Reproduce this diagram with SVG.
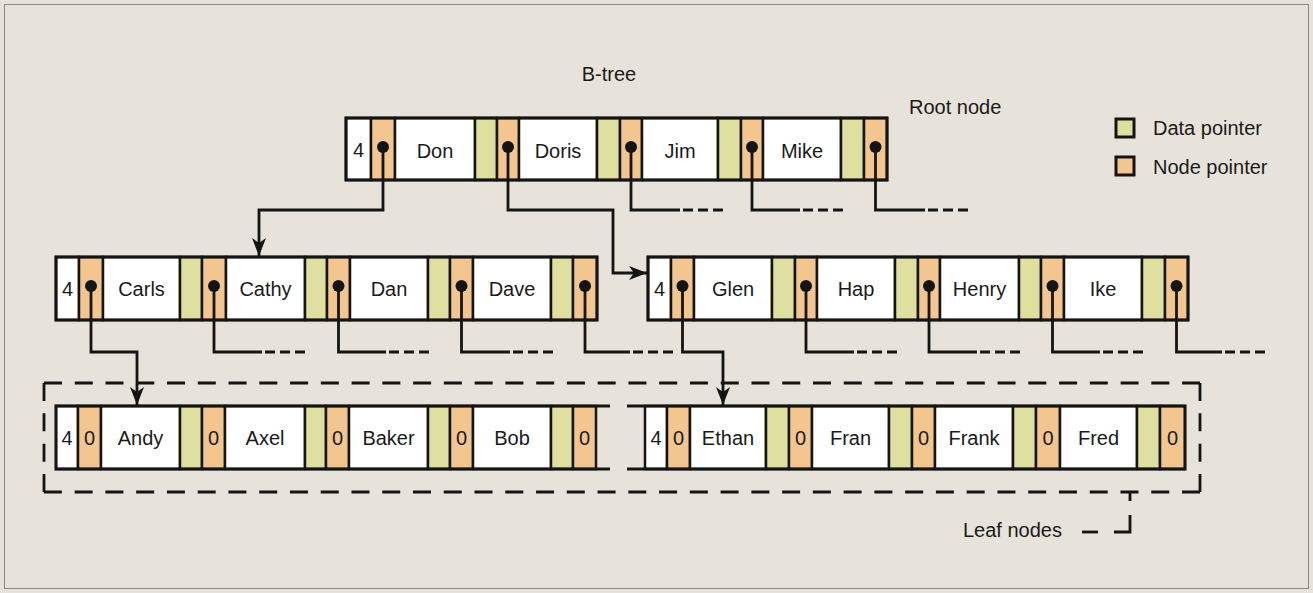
<svg xmlns="http://www.w3.org/2000/svg" width="1313" height="593" viewBox="0 0 1313 593">
<defs>
<style>
.bg{fill:#e7e3db}
.c{stroke:#141414;stroke-width:2.5}
.w{fill:#ffffff}
.np{fill:#f3c690}
.dp{fill:#dfdfa0}
.out{fill:none;stroke:#141414;stroke-width:3}
.t{font-family:"Liberation Sans",Arial,sans-serif;font-size:20px;fill:#1a1a1a}
.tc{font-family:"Liberation Sans",Arial,sans-serif;font-size:20px;fill:#1a1a1a;text-anchor:middle}
.ln{fill:none;stroke:#141414;stroke-width:2.8}
.dl{fill:none;stroke:#141414;stroke-width:2.8;stroke-dasharray:10 5}
.dot{fill:#141414}
</style>
<marker id="arr" markerUnits="userSpaceOnUse" markerWidth="20" markerHeight="16" refX="18" refY="7" orient="auto">
<path d="M0,0 L18,7 L0,14 L5,7 z" fill="#141414"/>
</marker>
</defs>
<rect class="bg" x="0" y="0" width="1313" height="593"/>
<rect x="4.5" y="4.5" width="1304" height="584" fill="none" stroke="#8a8680" stroke-width="1"/>

<text class="tc" x="609" y="81">B-tree</text>
<text class="t" x="909" y="114">Root node</text>

<g id="legend">
<rect class="dp" x="1116" y="119" width="18" height="18" stroke="#141414" stroke-width="3"/>
<text class="t" x="1153" y="135">Data pointer</text>
<rect class="np" x="1116" y="157" width="18" height="18" stroke="#141414" stroke-width="3"/>
<text class="t" x="1153" y="174">Node pointer</text>
</g>

<g id="root-node">
<rect class="c w" x="346" y="118" width="25" height="62"/>
<rect class="c np" x="371" y="118" width="24" height="62"/>
<rect class="c w" x="395" y="118" width="80" height="62"/>
<rect class="c dp" x="475" y="118" width="22" height="62"/>
<rect class="c np" x="497" y="118" width="22" height="62"/>
<rect class="c w" x="519" y="118" width="78" height="62"/>
<rect class="c dp" x="597" y="118" width="23" height="62"/>
<rect class="c np" x="620" y="118" width="22" height="62"/>
<rect class="c w" x="642" y="118" width="76" height="62"/>
<rect class="c dp" x="718" y="118" width="23" height="62"/>
<rect class="c np" x="741" y="118" width="22" height="62"/>
<rect class="c w" x="763" y="118" width="78" height="62"/>
<rect class="c dp" x="841" y="118" width="23" height="62"/>
<rect class="c np" x="864" y="118" width="23" height="62"/>
<rect class="out" x="346" y="118" width="541" height="62"/>
<text class="tc" x="358.5" y="157">4</text>
<text class="tc" x="435" y="158">Don</text>
<text class="tc" x="558" y="158">Doris</text>
<text class="tc" x="680" y="158">Jim</text>
<text class="tc" x="802" y="158">Mike</text>
</g>

<g id="mid-left">
<rect class="c w" x="56" y="257" width="23" height="63"/>
<rect class="c np" x="79" y="257" width="24" height="63"/>
<rect class="c w" x="103" y="257" width="77" height="63"/>
<rect class="c dp" x="180" y="257" width="22" height="63"/>
<rect class="c np" x="202" y="257" width="24" height="63"/>
<rect class="c w" x="226" y="257" width="79" height="63"/>
<rect class="c dp" x="305" y="257" width="22" height="63"/>
<rect class="c np" x="327" y="257" width="23" height="63"/>
<rect class="c w" x="350" y="257" width="78" height="63"/>
<rect class="c dp" x="428" y="257" width="22" height="63"/>
<rect class="c np" x="450" y="257" width="23" height="63"/>
<rect class="c w" x="473" y="257" width="78" height="63"/>
<rect class="c dp" x="551" y="257" width="22" height="63"/>
<rect class="c np" x="573" y="257" width="24" height="63"/>
<rect class="out" x="56" y="257" width="541" height="63"/>
<text class="tc" x="67.5" y="296">4</text>
<text class="tc" x="141.5" y="296">Carls</text>
<text class="tc" x="265.5" y="296">Cathy</text>
<text class="tc" x="389" y="296">Dan</text>
<text class="tc" x="512" y="296">Dave</text>
</g>

<g id="mid-right">
<rect class="c w" x="648" y="257" width="23" height="63"/>
<rect class="c np" x="671" y="257" width="23" height="63"/>
<rect class="c w" x="694" y="257" width="78" height="63"/>
<rect class="c dp" x="772" y="257" width="23" height="63"/>
<rect class="c np" x="795" y="257" width="22" height="63"/>
<rect class="c w" x="817" y="257" width="78" height="63"/>
<rect class="c dp" x="895" y="257" width="23" height="63"/>
<rect class="c np" x="918" y="257" width="22" height="63"/>
<rect class="c w" x="940" y="257" width="79" height="63"/>
<rect class="c dp" x="1019" y="257" width="22" height="63"/>
<rect class="c np" x="1041" y="257" width="23" height="63"/>
<rect class="c w" x="1064" y="257" width="78" height="63"/>
<rect class="c dp" x="1142" y="257" width="23" height="63"/>
<rect class="c np" x="1165" y="257" width="23" height="63"/>
<rect class="out" x="648" y="257" width="540" height="63"/>
<text class="tc" x="659.5" y="296">4</text>
<text class="tc" x="733" y="296">Glen</text>
<text class="tc" x="856" y="296">Hap</text>
<text class="tc" x="979.5" y="296">Henry</text>
<text class="tc" x="1103" y="296">Ike</text>
</g>

<g id="leaf-left">
<rect class="c w" x="56" y="406" width="22" height="63"/>
<rect class="c np" x="78" y="406" width="23" height="63"/>
<rect class="c w" x="101" y="406" width="79" height="63"/>
<rect class="c dp" x="180" y="406" width="22" height="63"/>
<rect class="c np" x="202" y="406" width="23" height="63"/>
<rect class="c w" x="225" y="406" width="80" height="63"/>
<rect class="c dp" x="305" y="406" width="21" height="63"/>
<rect class="c np" x="326" y="406" width="23" height="63"/>
<rect class="c w" x="349" y="406" width="79" height="63"/>
<rect class="c dp" x="428" y="406" width="22" height="63"/>
<rect class="c np" x="450" y="406" width="23" height="63"/>
<rect class="c w" x="473" y="406" width="78" height="63"/>
<rect class="c dp" x="551" y="406" width="22" height="63"/>
<rect class="c np" x="573" y="406" width="23" height="63"/>
<path class="ln" d="M610,406 H56 V469 H610" stroke-width="3"/>
<text class="tc" x="67" y="445">4</text>
<text class="tc" x="89.5" y="445">0</text>
<text class="tc" x="140.5" y="445">Andy</text>
<text class="tc" x="213.5" y="445">0</text>
<text class="tc" x="265" y="445">Axel</text>
<text class="tc" x="337.5" y="445">0</text>
<text class="tc" x="388.5" y="445">Baker</text>
<text class="tc" x="461.5" y="445">0</text>
<text class="tc" x="512" y="445">Bob</text>
<text class="tc" x="584.5" y="445">0</text>
</g>

<g id="leaf-right">
<rect class="c w" x="645" y="406" width="22" height="63"/>
<rect class="c np" x="667" y="406" width="23" height="63"/>
<rect class="c w" x="690" y="406" width="76" height="63"/>
<rect class="c dp" x="766" y="406" width="23" height="63"/>
<rect class="c np" x="789" y="406" width="23" height="63"/>
<rect class="c w" x="812" y="406" width="77" height="63"/>
<rect class="c dp" x="889" y="406" width="23" height="63"/>
<rect class="c np" x="912" y="406" width="23" height="63"/>
<rect class="c w" x="935" y="406" width="78" height="63"/>
<rect class="c dp" x="1013" y="406" width="23" height="63"/>
<rect class="c np" x="1036" y="406" width="24" height="63"/>
<rect class="c w" x="1060" y="406" width="77" height="63"/>
<rect class="c dp" x="1137" y="406" width="23" height="63"/>
<rect class="c np" x="1160" y="406" width="25" height="63"/>
<path class="ln" d="M627,406 H1185 V469 H627" stroke-width="3"/>
<text class="tc" x="656" y="445">4</text>
<text class="tc" x="678.5" y="445">0</text>
<text class="tc" x="728" y="445">Ethan</text>
<text class="tc" x="800.5" y="445">0</text>
<text class="tc" x="850.5" y="445">Fran</text>
<text class="tc" x="923.5" y="445">0</text>
<text class="tc" x="974" y="445">Frank</text>
<text class="tc" x="1048" y="445">0</text>
<text class="tc" x="1098.5" y="445">Fred</text>
<text class="tc" x="1172.5" y="445">0</text>
</g>

<g id="leaf-group">
<path class="ln" d="M44,383 H1200" stroke-width="3" stroke-dasharray="18 12.76"/>
<path class="ln" d="M1200,383 V492" stroke-width="3" stroke-dasharray="18 12.33"/>
<path class="ln" d="M1200,492 H44" stroke-width="3" stroke-dasharray="18 12.76"/>
<path class="ln" d="M44,492 V383" stroke-width="3" stroke-dasharray="18 12.33"/>
<path class="ln" d="M1130,492 V501"/>
<path class="ln" d="M1130,515 V532 H1114"/>
<path class="ln" d="M1098,532 H1082"/>
<text class="t" x="963" y="537">Leaf nodes</text>
</g>

<g id="connectors">
<g class="dot">
<circle cx="383" cy="147" r="6"/>
<circle cx="508" cy="147" r="6"/>
<circle cx="631" cy="147" r="6"/>
<circle cx="752" cy="147" r="6"/>
<circle cx="875.5" cy="147" r="6"/>
<circle cx="91" cy="286" r="6"/>
<circle cx="214" cy="286" r="6"/>
<circle cx="338.5" cy="286" r="6"/>
<circle cx="461.5" cy="286" r="6"/>
<circle cx="585" cy="286" r="6"/>
<circle cx="682.5" cy="286" r="6"/>
<circle cx="806" cy="286" r="6"/>
<circle cx="929" cy="286" r="6"/>
<circle cx="1052.5" cy="286" r="6"/>
<circle cx="1176.5" cy="286" r="6"/>
</g>
<path class="ln" d="M383,147 V210 H259 V256" marker-end="url(#arr)"/>
<path class="ln" d="M508,147 V210 H613 V273 H647" marker-end="url(#arr)"/>
<path class="ln" d="M631,147 V210 H680"/>
<path class="dl" d="M683,210 H723"/>
<path class="ln" d="M752,147 V210 H800"/>
<path class="dl" d="M803,210 H843"/>
<path class="ln" d="M875.5,147 V210 H925"/>
<path class="dl" d="M928,210 H968"/>

<path class="ln" d="M91,286 V352 H137 V405" marker-end="url(#arr)"/>
<path class="ln" d="M214,286 V352 H262"/>
<path class="dl" d="M265,352 H305"/>
<path class="ln" d="M338.5,286 V352 H386"/>
<path class="dl" d="M389,352 H429"/>
<path class="ln" d="M461.5,286 V352 H510"/>
<path class="dl" d="M513,352 H553"/>
<path class="ln" d="M585,286 V352 H630"/>
<path class="dl" d="M633,352 H673"/>

<path class="ln" d="M682.5,286 V352 H723 V405" marker-end="url(#arr)"/>
<path class="ln" d="M806,286 V352 H854"/>
<path class="dl" d="M857,352 H897"/>
<path class="ln" d="M929,286 V352 H977"/>
<path class="dl" d="M980,352 H1020"/>
<path class="ln" d="M1052.5,286 V352 H1100"/>
<path class="dl" d="M1103,352 H1143"/>
<path class="ln" d="M1176.5,286 V352 H1222"/>
<path class="dl" d="M1225,352 H1265"/>
</g>
</svg>
